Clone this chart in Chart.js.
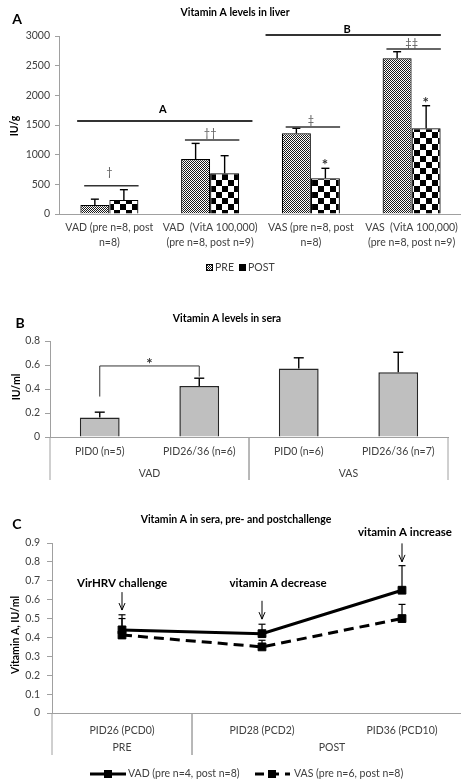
<!DOCTYPE html>
<html>
<head>
<meta charset="utf-8">
<script src="https://cdn.jsdelivr.net/npm/chart.js@4.4.1/dist/chart.umd.min.js"></script>
<style>
  html, body { margin: 0; padding: 0; background: #fff; }
  body { width: 461px; height: 781px; overflow: hidden; position: relative; }
  .panel { position: absolute; left: 0; }
</style>
</head>
<body>
<div class="panel" style="top:0;width:470px;height:290px"><canvas id="chartA" width="470" height="290"></canvas></div>
<div class="panel" style="top:300px;width:461px;height:200px"><canvas id="chartB" width="461" height="200"></canvas></div>
<div class="panel" style="top:500px;width:480px;height:281px"><canvas id="chartC" width="480" height="281"></canvas></div>
<script>
// ---- data ----
const liverCategories = [
  ['VAD (pre n=8, post', 'n=8)'],
  ['VAD  (VitA 100,000)', '(pre n=8, post n=9)'],
  ['VAS (pre n=8, post', 'n=8)'],
  ['VAS  (VitA 100,000)', '(pre n=8, post n=9)']
];
const liverPre = [150, 925, 1360, 2625];
const liverPreErr = [100, 265, 85, 110];
const liverPost = [238, 686, 602, 1444];
const liverPostErr = [172, 297, 168, 381];
const liverTicks = [0, 500, 1000, 1500, 2000, 2500, 3000];

const seraCategories = ['PID0 (n=5)', 'PID26/36 (n=6)', 'PID0 (n=6)', 'PID26/36 (n=7)'];
const seraGroups = ['VAD', 'VAD', 'VAS', 'VAS'];
const seraValues = [0.163, 0.426, 0.57, 0.54];
const seraErr = [0.044, 0.064, 0.09, 0.166];
const seraTicks = [0, 0.2, 0.4, 0.6, 0.8];

const challengeCategories = ['PID26 (PCD0)', 'PID28 (PCD2)', 'PID36 (PCD10)'];
const challengeGroups = ['PRE', 'POST', 'POST'];
const vadSera = [0.44, 0.42, 0.65];
const vadSeraErr = [0.08, 0.05, 0.13];
const vasSera = [0.413, 0.35, 0.50];
const vasSeraErr = [0.087, 0.035, 0.075];
const challengeTicks = [0, 0.1, 0.2, 0.3, 0.4, 0.5, 0.6, 0.7, 0.8, 0.9];

// ---- shared ----
const FONT = 'Lato, "Liberation Sans", sans-serif';
Chart.defaults.font.family = FONT;
Chart.defaults.font.size = 10.5;
Chart.defaults.color = '#404040';
Chart.defaults.animation = false;
Chart.defaults.plugins.legend.display = false;
Chart.defaults.plugins.tooltip.enabled = false;

const AXIS = '#a0a0a0';
const plainTick = v => String(v);

function text(ctx, str, x, y, font, opts = {}) {
  ctx.save();
  ctx.font = font;
  ctx.fillStyle = opts.color || '#000';
  ctx.textAlign = opts.align || 'center';
  ctx.textBaseline = 'middle';
  if (opts.rotate) {
    ctx.translate(x, y);
    ctx.rotate(-Math.PI / 2);
    ctx.fillText(str, 0, 0);
  } else {
    ctx.fillText(str, x, y);
  }
  ctx.restore();
}

function line(ctx, pts, width, color, dash) {
  ctx.save();
  ctx.strokeStyle = color || '#000';
  ctx.lineWidth = width;
  if (dash) ctx.setLineDash(dash);
  ctx.beginPath();
  pts.forEach((p, i) => i ? ctx.lineTo(p[0], p[1]) : ctx.moveTo(p[0], p[1]));
  ctx.stroke();
  ctx.restore();
}

// upper error bars from dataset.errors
const errorBars = {
  id: 'errorBars',
  afterDatasetsDraw(chart, args, opts) {
    const y = chart.scales.y;
    chart.data.datasets.forEach((ds, i) => {
      if (!ds.errors) return;
      chart.getDatasetMeta(i).data.forEach((el, j) => {
        const top = y.getPixelForValue(ds.data[j] + ds.errors[j]);
        line(chart.ctx, [[el.x, el.y], [el.x, top]], opts.width, '#000');
        line(chart.ctx, [[el.x - opts.cap / 2, top], [el.x + opts.cap / 2, top]], opts.width, '#000');
      });
    });
  }
};

// second row of x labels with separators
const groupAxis = {
  id: 'groupAxis',
  afterDraw(chart, args, opts) {
    const x = chart.scales.x;
    const ctx = chart.ctx;
    const base = chart.chartArea.bottom;
    const groups = opts.groups;
    let start = 0;
    for (let i = 1; i <= groups.length; i++) {
      if (i === groups.length || groups[i] !== groups[start]) {
        const x0 = x.getPixelForValue(start - 0.5);
        const x1 = x.getPixelForValue(i - 0.5);
        line(ctx, [[x0, base], [x0, base + opts.lineLen]], 1, AXIS);
        line(ctx, [[x1, base], [x1, base + opts.lineLen]], 1, AXIS);
        text(ctx, groups[start], (x0 + x1) / 2, base + opts.labelOffset, '10.5px ' + FONT, { color: '#404040' });
        start = i;
      }
    }
  }
};

function patternCanvas(w, h, draw) {
  const c = document.createElement('canvas');
  c.width = w; c.height = h;
  const g = c.getContext('2d');
  g.fillStyle = '#fff';
  g.fillRect(0, 0, w, h);
  g.fillStyle = '#000';
  draw(g);
  return c.getContext('2d').createPattern(c, 'repeat');
}
const prePattern = patternCanvas(2, 2, g => { g.fillStyle = '#1a1a1a'; g.fillRect(0, 0, 1, 1); g.fillRect(1, 1, 1, 1); });
const postPattern = patternCanvas(12, 12, g => { g.fillRect(0, 0, 6, 6); g.fillRect(6, 6, 6, 6); });

// ---- A: liver ----
const liverDecor = {
  id: 'liverDecor',
  afterDraw(chart) {
    const { ctx, scales: { x, y } } = chart;
    text(ctx, 'A', 17, 19, 'bold 14px ' + FONT);
    text(ctx, 'Vitamin A levels in liver', 235, 13, 'bold 10.5px ' + FONT);
    text(ctx, 'IU/g', 15, 126, 'bold 10.5px ' + FONT, { rotate: true });

    // overall brackets
    const yA = y.getPixelForValue(1567);
    line(ctx, [[x.getPixelForValue(-0.32), yA], [x.getPixelForValue(1.42), yA]], 1.8, '#333');
    text(ctx, 'A', x.getPixelForValue(0.53), y.getPixelForValue(1770), 'bold 11px ' + FONT);
    const yB = y.getPixelForValue(3017);
    line(ctx, [[x.getPixelForValue(1.55), yB], [x.getPixelForValue(3.29), yB]], 1.8, '#333');
    text(ctx, 'B', x.getPixelForValue(2.36), y.getPixelForValue(3118), 'bold 11px ' + FONT);

    // pair markers
    const pairs = [[477, 708, '\u2020'], [1247, 1365, '\u2020\u2020'], [1466, 1584, '\u2021'], [2781, 2882, '\u2021\u2021']];
    pairs.forEach((p, i) => {
      const ly = y.getPixelForValue(p[0]);
      line(ctx, [[x.getPixelForValue(i - 0.25), ly], [x.getPixelForValue(i + 0.29), ly]], 1.5, '#333');
      text(ctx, p[2], x.getPixelForValue(i), y.getPixelForValue(p[1]), '11px ' + FONT, { color: '#555' });
    });
    [[2, 893], [3, 1938]].forEach(s => {
      text(ctx, '*', x.getPixelForValue(s[0] + 0.14), y.getPixelForValue(s[1]) + 4, 'bold 15px ' + FONT, { color: '#333' });
    });

    // legend
    ctx.save();
    ctx.fillStyle = prePattern; ctx.fillRect(206, 264, 7, 7);
    ctx.strokeStyle = '#000'; ctx.lineWidth = 1; ctx.strokeRect(206.5, 264.5, 6, 6);
    ctx.fillStyle = '#000'; ctx.fillRect(239, 264, 7, 7);
    ctx.restore();
    text(ctx, 'PRE', 215, 267.5, '10.5px ' + FONT, { align: 'left', color: '#404040' });
    text(ctx, 'POST', 248, 267.5, '10.5px ' + FONT, { align: 'left', color: '#404040' });
  }
};

new Chart(document.getElementById('chartA'), {
  type: 'bar',
  data: {
    labels: liverCategories,
    datasets: [
      { label: 'PRE', data: liverPre, errors: liverPreErr, backgroundColor: prePattern, borderColor: '#000', borderWidth: 1.2 },
      { label: 'POST', data: liverPost, errors: liverPostErr, backgroundColor: postPattern, borderColor: '#000', borderWidth: 1.2 }
    ]
  },
  options: {
    responsive: false,
    layout: { padding: { top: 36, right: 8, left: 0, bottom: 0 } },
    datasets: { bar: { categoryPercentage: 0.576, barPercentage: 1 } },
    plugins: { errorBars: { width: 1.4, cap: 8 } },
    scales: {
      x: {
        afterFit: s => { s.height = 76; },
        grid: { display: false, drawTicks: false },
        border: { color: AXIS },
        ticks: { padding: 7, maxRotation: 0, autoSkip: false, font: { size: 10.5, lineHeight: 1.35 } }
      },
      y: {
        min: 0, max: 3000,
        afterFit: s => { s.width = 59; },
        afterBuildTicks: s => { s.ticks = liverTicks.map(v => ({ value: v })); },
        grid: { drawOnChartArea: false, tickLength: 4, color: AXIS },
        border: { color: AXIS },
        ticks: { padding: 5, callback: plainTick }
      }
    }
  },
  plugins: [errorBars, liverDecor]
});

// ---- B: sera ----
const seraDecor = {
  id: 'seraDecor',
  afterDraw(chart) {
    const { ctx, scales: { x, y } } = chart;
    text(ctx, 'B', 20, 23.5, 'bold 14px ' + FONT);
    text(ctx, 'Vitamin A levels in sera', 227, 19, 'bold 10.5px ' + FONT);
    text(ctx, 'IU/ml', 17, 87, 'bold 10.5px ' + FONT, { rotate: true });
    const x0 = x.getPixelForValue(0), x1 = x.getPixelForValue(1);
    line(ctx, [[x0, y.getPixelForValue(0.337)], [x0, y.getPixelForValue(0.592)], [x1, y.getPixelForValue(0.592)], [x1, y.getPixelForValue(0.503)]], 1, '#333');
    text(ctx, '*', (x0 + x1) / 2, y.getPixelForValue(0.642) + 4, 'bold 15px ' + FONT, { color: '#333' });
  }
};

new Chart(document.getElementById('chartB'), {
  type: 'bar',
  data: {
    labels: seraCategories,
    datasets: [{ data: seraValues, errors: seraErr, backgroundColor: '#bfbfbf', borderColor: '#262626', borderWidth: 1.5 }]
  },
  options: {
    responsive: false,
    layout: { padding: { top: 41, right: 13, left: 0, bottom: 0 } },
    datasets: { bar: { categoryPercentage: 1, barPercentage: 0.4 } },
    plugins: { errorBars: { width: 1.4, cap: 10 }, groupAxis: { groups: seraGroups, lineLen: 43, labelOffset: 37 } },
    scales: {
      x: {
        afterFit: s => { s.height = 63; },
        grid: { display: false, drawTicks: false },
        border: { color: AXIS },
        ticks: { padding: 8, maxRotation: 0, autoSkip: false }
      },
      y: {
        min: 0, max: 0.8,
        afterFit: s => { s.width = 50; },
        afterBuildTicks: s => { s.ticks = seraTicks.map(v => ({ value: v })); },
        grid: { drawOnChartArea: false, tickLength: 5, color: AXIS },
        border: { color: AXIS },
        ticks: { padding: 5, callback: plainTick }
      }
    }
  },
  plugins: [errorBars, groupAxis, seraDecor]
});

// ---- C: challenge ----
const challengeDecor = {
  id: 'challengeDecor',
  afterDraw(chart) {
    const { ctx, scales: { x, y } } = chart;
    text(ctx, 'C', 17, 24.5, 'bold 14px ' + FONT);
    text(ctx, 'Vitamin A in sera, pre- and postchallenge', 236, 20, 'bold 10.5px ' + FONT);
    text(ctx, 'Vitamin A, IU/ml', 16, 135, 'bold 10.5px ' + FONT, { rotate: true });

    const notes = [
      ['VirHRV challenge', 0, 0, 0.687, 0.64, 0.545],
      ['vitamin A decrease', 1, 16, 0.687, 0.594, 0.497],
      ['vitamin A increase', 2, 3, 0.958, 0.898, 0.80]
    ];
    notes.forEach(n => {
      const px = x.getPixelForValue(n[1]);
      text(ctx, n[0], px + n[2], y.getPixelForValue(n[3]), 'bold 11.5px ' + FONT);
      const t = y.getPixelForValue(n[5]);
      line(ctx, [[px, y.getPixelForValue(n[4])], [px, t]], 1, '#000');
      line(ctx, [[px - 3, t - 7], [px, t], [px + 3, t - 7]], 1, '#000');
    });

    // legend
    const ly = 274;
    line(ctx, [[90, ly], [126, ly]], 3, '#000');
    ctx.fillStyle = '#000';
    ctx.fillRect(104, ly - 4, 8, 8);
    text(ctx, 'VAD (pre n=4, post n=8)', 128, ly, '10.5px ' + FONT, { align: 'left', color: '#404040' });
    line(ctx, [[255, ly], [290, ly]], 3, '#000', [9, 6]);
    ctx.fillRect(268, ly - 4, 8, 8);
    text(ctx, 'VAS (pre n=6, post n=8)', 294, ly, '10.5px ' + FONT, { align: 'left', color: '#404040' });
  }
};

new Chart(document.getElementById('chartC'), {
  type: 'line',
  data: {
    labels: challengeCategories,
    datasets: [
      { label: 'VAD (pre n=4, post n=8)', data: vadSera, errors: vadSeraErr, borderColor: '#000', borderWidth: 3,
        pointStyle: 'rect', pointRadius: 5.5, pointBackgroundColor: '#000', pointBorderColor: '#000', pointBorderWidth: 1 },
      { label: 'VAS (pre n=6, post n=8)', data: vasSera, errors: vasSeraErr, borderColor: '#000', borderWidth: 3, borderDash: [10, 6],
        pointStyle: 'rect', pointRadius: 5.5, pointBackgroundColor: '#000', pointBorderColor: '#000', pointBorderWidth: 1 }
    ]
  },
  options: {
    responsive: false,
    layout: { padding: { top: 43, right: 8, left: 0, bottom: 0 } },
    plugins: { errorBars: { width: 1.2, cap: 7 }, groupAxis: { groups: challengeGroups, lineLen: 42, labelOffset: 35 } },
    scales: {
      x: {
        offset: true,
        afterFit: s => { s.height = 68; },
        grid: { display: false, drawTicks: false, offset: true },
        border: { color: AXIS },
        ticks: { padding: 11, maxRotation: 0, autoSkip: false }
      },
      y: {
        min: 0, max: 0.9,
        afterFit: s => { s.width = 52; },
        afterBuildTicks: s => { s.ticks = challengeTicks.map(v => ({ value: v })); },
        grid: { drawOnChartArea: false, tickLength: 5, color: AXIS },
        border: { color: AXIS },
        ticks: { padding: 7, callback: plainTick }
      }
    }
  },
  plugins: [errorBars, groupAxis, challengeDecor]
});
</script>
</body>
</html>
